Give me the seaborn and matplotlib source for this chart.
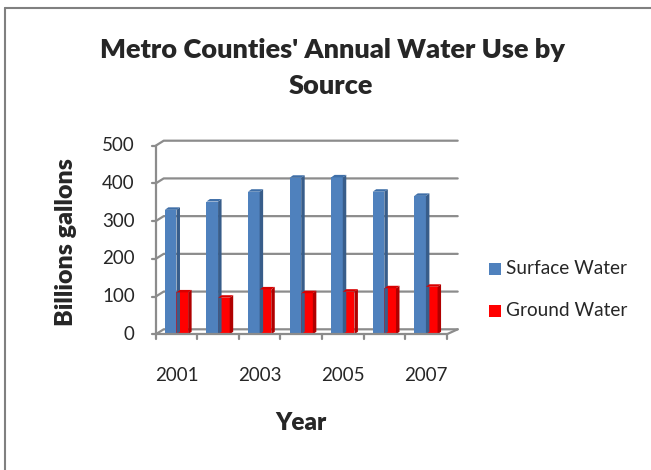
import matplotlib
matplotlib.use("Agg")
import matplotlib.pyplot as plt
from matplotlib.patches import Polygon
import numpy as np
import pandas as pd
import seaborn as sns

years = ["2001", "2002", "2003", "2004", "2005", "2006", "2007"]
surface_water = [330, 352, 378, 415, 416, 378, 367]
ground_water = [111, 97, 119, 109, 113, 122, 126]
series_names = ["Surface Water", "Ground Water"]
y_ticks = [0, 100, 200, 300, 400, 500]

front_colors = {"Surface Water": "#4F81BD", "Ground Water": "#FF0000"}
side_colors = {"Surface Water": "#385D8A", "Ground Water": "#B00000"}
top_colors = {"Surface Water": "#3F6FA8", "Ground Water": "#D80000"}


def to_data(ax, pts, dx=0, dy=0):
    disp = ax.transData.transform(pts) + np.array([dx, dy])
    return ax.transData.inverted().transform(disp)


def main():
    df = pd.DataFrame({
        "Year": years * 2,
        "Value": surface_water + ground_water,
        "Source": [series_names[0]] * len(years) + [series_names[1]] * len(years),
    })

    sns.set_style("white")
    plt.rcParams["font.family"] = ["Lato", "DejaVu Sans"]

    fig = plt.figure(figsize=(6.51, 4.70), dpi=100)
    W, H = 651, 470
    ax = fig.add_axes([155.7 / W, 1 - 334.3 / H, (446.7 - 155.7) / W, (334.3 - 145.7) / H])

    sns.barplot(data=df, x="Year", y="Value", hue="Source", palette=front_colors,
                width=0.56, gap=0, saturation=1, ax=ax, legend=False, zorder=3,
                linewidth=0)
    ax.set_xlim(-0.5, len(years) - 0.5)
    ax.set_ylim(0, 500)
    for s in ax.spines.values():
        s.set_visible(False)
    ax.set_xticks([])
    ax.set_yticks([])
    ax.set_xlabel("")
    ax.set_ylabel("")

    grid_c = "#8C8C8C"
    bdx, bdy = 8, 5  # back-wall offset in pixels
    x0, x1 = -0.5, len(years) - 0.5
    for v in y_ticks:
        a = to_data(ax, [[x0, v], [x1, v]], bdx, bdy)
        f = [x0, v]
        ax.plot([f[0], a[0][0], a[1][0] + 3 * (x1 - x0) / 291],
                [f[1], a[0][1], a[1][1]], color=grid_c, lw=1.6, clip_on=False, zorder=1)
        # left ticks
        t = to_data(ax, [[x0, v]], -4, 0)[0]
        lab = to_data(ax, [[x0, v]], -21, 0)[0]
        ax.plot([t[0], x0], [v, v], color=grid_c, lw=1.6, clip_on=False, zorder=1)
        ax.text(lab[0], v, str(v), ha="right", va="center", fontsize=13.5)
    # front floor line and right diagonal
    ax.plot([x0, x1], [0, 0], color=grid_c, lw=1.6, clip_on=False, zorder=4)
    r = to_data(ax, [[x1, 0]], bdx + 3, bdy)[0]
    ax.plot([x1, r[0]], [0, r[1]], color=grid_c, lw=1.6, clip_on=False, zorder=4)
    ax.plot([x0, x0], [0, 500], color=grid_c, lw=1.6, clip_on=False, zorder=1)
    for i in range(len(years) + 1):
        b = to_data(ax, [[x0 + i, 0]], 0, -5)[0]
        ax.plot([x0 + i, x0 + i], [0, b[1]], color=grid_c, lw=1.6, clip_on=False, zorder=4)
    for i, yr in enumerate(years):
        if i % 2 == 0:
            p = to_data(ax, [[i, 0]], 0, -41)[0]
            ax.text(i, p[1], yr, ha="center", va="center", fontsize=13.5)

    # 3d faces on bars
    sdx, sdy = 3.5, 2.5
    for patch, src in zip(ax.patches, [series_names[0]] * len(years) + [series_names[1]] * len(years)):
        x, w, h = patch.get_x(), patch.get_width(), patch.get_height()
        front = [[x + w, 0], [x + w, h]]
        back = to_data(ax, front, sdx, sdy)
        ax.add_patch(Polygon([front[0], back[0], back[1], front[1]], closed=True,
                             facecolor=side_colors[src], lw=0, zorder=3, clip_on=False))
        tl = [[x, h], [x + w, h]]
        tb = to_data(ax, tl, sdx, sdy)
        ax.add_patch(Polygon([tl[0], tl[1], tb[1], tb[0]], closed=True,
                             facecolor=top_colors[src], lw=0, zorder=3, clip_on=False))

    fig.text(333 / W, 1 - 50 / H, "Metro Counties' Annual Water Use by",
             ha="center", va="center", fontsize=19.5, fontweight="heavy")
    fig.text(331 / W, 1 - 86 / H, "Source", ha="center", va="center",
             fontsize=19.5, fontweight="heavy")
    fig.text(66 / W, 1 - 242 / H, "Billions gallons", rotation=90, ha="center",
             va="center", fontsize=18, fontweight="heavy")
    fig.text(301 / W, 1 - 423 / H, "Year", ha="center", va="center",
             fontsize=17.5, fontweight="heavy")

    # legend
    for name, yy in zip(series_names, [269, 311]):
        fig.patches.append(plt.Rectangle((489 / W, 1 - (yy + 6) / H), 12 / W, 12 / H,
                                         transform=fig.transFigure,
                                         facecolor=front_colors[name], lw=0))
        fig.text(506 / W, 1 - yy / H, name, ha="left", va="center", fontsize=13.7)

    # outer border (left and top)
    fig.add_artist(plt.Line2D([5 / W, 5 / W], [0, 1 - 8 / H], color="#808080", lw=1.5,
                              transform=fig.transFigure))
    fig.add_artist(plt.Line2D([5 / W, 1], [1 - 8 / H, 1 - 8 / H], color="#808080", lw=1.5,
                              transform=fig.transFigure))

    plt.savefig("out.png", dpi=100)


if __name__ == "__main__":
    main()
